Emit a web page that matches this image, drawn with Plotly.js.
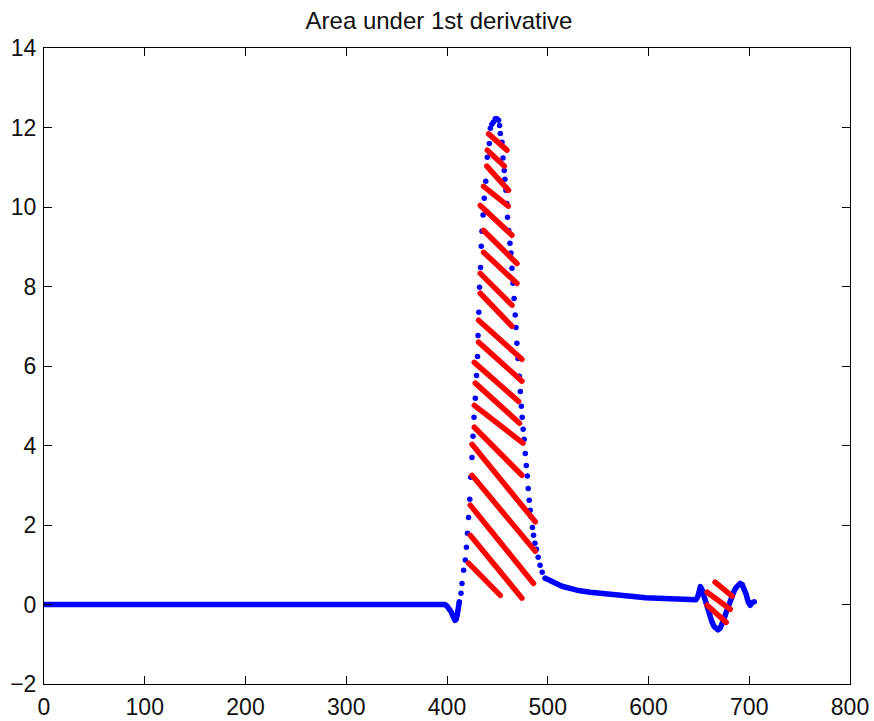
<!DOCTYPE html>
<html>
<head>
<meta charset="utf-8">
<script src="https://cdn.plot.ly/plotly-3.0.1.min.js"></script>
<style>
  html, body { margin: 0; padding: 0; background: #fff; }
  #chart { width: 874px; height: 721px; }
  .scatterlayer .js-line { stroke-linecap: round; stroke-linejoin: round; }
</style>
</head>
<body>
<div id="chart"></div>
<script>
// Flat baseline and small dip before the peak (dense samples -> drawn as thick line)
var baseX = [0, 100, 200, 300, 398, 400, 402, 404, 406, 408, 409, 410, 411, 412.2];
var baseY = [0, 0, 0, 0, 0, -0.04, -0.1, -0.18, -0.3, -0.4, -0.38, -0.28, -0.15, 0.06];

// Main peak: individual sample dots
var peakX = [412.2, 413.9, 414.9, 416.5, 418.2, 419.3, 420.3, 421.4, 422.6, 423.6,
             424.8, 425.8, 426.8, 428.1, 429.3, 430.3, 430.8, 431.6, 432.3, 433.3,
             434.0, 434.7, 435.8, 437.0, 438.5, 440.0, 442.0, 443.0, 444.6, 446.2,
             447.9, 449.5, 451.2, 452.2, 452.9, 454.6, 455.6, 456.8, 457.5, 458.5,
             459.3, 460.1, 461.3, 462.5, 463.5, 464.5, 465.5, 466.6, 467.7, 468.5,
             469.4, 470.5, 471.8, 472.8, 473.8, 474.6, 475.6, 476.6, 477.7, 478.7,
             479.7, 480.6, 481.6, 482.6, 483.6, 484.8, 485.9, 487.3, 488.8, 490.5,
             492.4, 494.5, 497.5];
var peakY = [0.06, 0.28, 0.53, 0.86, 1.12, 1.44, 1.79, 2.19, 2.65, 3.20,
             3.70, 4.23, 4.71, 5.19, 5.76, 6.24, 6.77, 7.35, 7.98, 8.48,
             9.01, 9.39, 9.80, 10.22, 10.65, 11.25, 11.60, 11.98, 12.08, 12.14,
             12.22, 12.22, 12.18, 12.05, 11.85, 11.63, 11.23, 10.92, 10.70, 10.42,
             10.09, 9.74, 9.41, 9.09, 8.84, 8.46, 8.08, 7.70, 7.28, 6.97,
             6.57, 6.19, 5.74, 5.36, 4.99, 4.71, 4.41, 4.16, 3.80, 3.50,
             3.23, 2.92, 2.62, 2.37, 2.20, 1.94, 1.74, 1.54, 1.39, 1.19,
             0.99, 0.81, 0.66];

// Slow tail and the small oscillation at the end (dense samples -> thick line)
var tailX = [497.5, 500.8, 505, 509, 514, 519, 529, 542, 555, 572, 585, 597, 610, 625, 640, 647,
             649, 650.5, 651.5, 653, 655, 657, 659, 661, 663, 665, 667, 669, 671, 673,
             675, 677, 679, 681, 683, 685, 687, 689, 691, 693, 695, 697, 699, 701, 703, 705];
var tailY = [0.66, 0.61, 0.57, 0.52, 0.46, 0.42, 0.36, 0.31, 0.27, 0.21, 0.20, 0.17, 0.15, 0.13, 0.11, 0.12,
             0.2, 0.38, 0.45, 0.38, 0.2, 0.02, -0.15, -0.3, -0.44, -0.55, -0.62, -0.64, -0.6, -0.5,
             -0.36, -0.2, -0.04, 0.1, 0.23, 0.34, 0.43, 0.5, 0.53, 0.5, 0.4, 0.25, 0.06, -0.02, 0.05, 0.07];

// Red hatching segments (start and end points)
var hatchX1 = [441.3, 440.0, 439.5, 436.3, 433.0, 436.3, 436.3, 433.0, 433.0, 431.3,
               431.3, 427.1, 428.1, 427.1, 427.1, 424.8, 424.8, 423.1, 423.1, 421.4,
               666.1, 658.2, 658.2];
var hatchY1 = [11.84, 11.43, 11.03, 10.52, 10.04, 9.41, 8.86, 8.33, 7.83, 7.15,
               6.60, 6.09, 5.57, 5.01, 4.46, 4.03, 3.25, 2.50, 1.74, 1.04,
               0.56, 0.31, -0.02];
var hatchX2 = [459.5, 456.8, 461.1, 460.8, 464.5, 469.4, 469.4, 464.5, 464.5, 474.4,
               474.4, 471.0, 472.0, 475.4, 474.4, 487.6, 487.6, 485.9, 474.4, 452.9,
               683.0, 681.1, 677.1];
var hatchY2 = [11.43, 11.03, 10.42, 10.02, 9.29, 8.58, 8.08, 7.53, 7.00, 6.17,
               5.62, 5.11, 4.56, 4.06, 3.25, 2.08, 1.34, 0.53, 0.16, 0.23,
               0.21, -0.12, -0.45];

var hx = [], hy = [];
for (var i = 0; i < hatchX1.length; i++) {
  hx.push(hatchX1[i], hatchX2[i], null);
  hy.push(hatchY1[i], hatchY2[i], null);
}

var blue = '#0000ff';
var traces = [
  { x: baseX, y: baseY, mode: 'lines', line: { color: blue, width: 5.5 }, hoverinfo: 'skip' },
  { x: tailX, y: tailY, mode: 'lines', line: { color: blue, width: 5.5 }, hoverinfo: 'skip' },
  { x: peakX, y: peakY, mode: 'markers', marker: { color: blue, size: 5.5 }, hoverinfo: 'skip' },
  { x: hx, y: hy, mode: 'lines', line: { color: '#ff0000', width: 5.5 }, connectgaps: false, hoverinfo: 'skip' }
];

var font = { family: 'Liberation Sans, Arial, sans-serif', size: 23, color: '#111' };
var axisCommon = {
  showgrid: false, zeroline: false, showline: true, linecolor: '#000', linewidth: 1,
  mirror: 'ticks', ticks: 'inside', ticklen: 8, tickwidth: 1, tickcolor: '#000',
  tickfont: font
};

var layout = {
  width: 874, height: 721,
  margin: { l: 44, r: 24, t: 48, b: 37 },
  paper_bgcolor: '#fff', plot_bgcolor: '#fff',
  showlegend: false,
  font: font,
  title: { text: 'Area under 1st derivative', font: { family: font.family, size: 24, color: '#111' },
           x: 0.49, xref: 'paper', y: 0.972, yref: 'container', yanchor: 'middle' },
  xaxis: Object.assign({}, axisCommon, { range: [0, 800], tickmode: 'linear', tick0: 0, dtick: 100, ticklabelstandoff: 2 }),
  yaxis: Object.assign({}, axisCommon, { range: [-2, 14], tickmode: 'linear', tick0: -2, dtick: 2, ticklabelstandoff: 2 })
};

Plotly.newPlot('chart', traces, layout, { staticPlot: true, displayModeBar: false });
</script>
</body>
</html>
